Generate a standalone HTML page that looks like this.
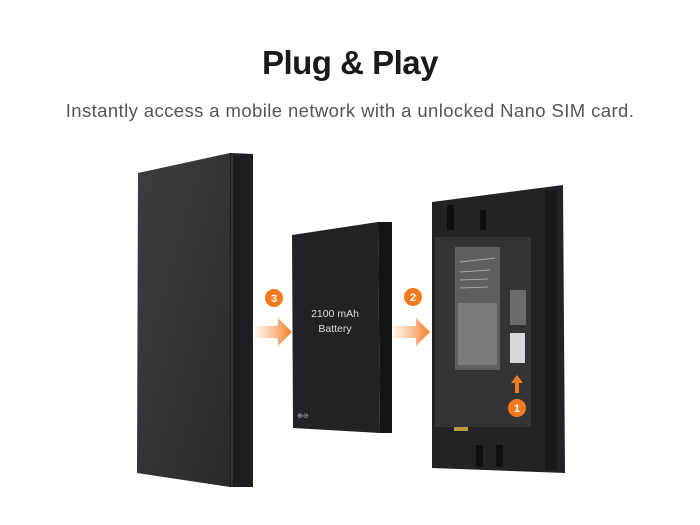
<!DOCTYPE html>
<html><head><style>
body{margin:0;background:#fff;width:700px;height:525px;overflow:hidden;font-family:"Liberation Sans",sans-serif}
h1{position:absolute;top:44px;left:0;width:700px;text-align:center;margin:0;font-size:33px;font-weight:bold;color:#1a1a1a;letter-spacing:-0.5px}
p{position:absolute;top:100px;left:0;width:700px;text-align:center;margin:0;font-size:18.5px;color:#555;letter-spacing:0.4px}
svg{position:absolute;left:0;top:0}
</style></head><body>
<h1>Plug &amp; Play</h1>
<p>Instantly access a mobile network with a unlocked Nano SIM card.</p>
<svg width="700" height="525">
<defs>
<linearGradient id="ar" x1="0" x2="1"><stop offset="0" stop-color="#f7a060" stop-opacity="0.1"/><stop offset="1" stop-color="#f47a20"/></linearGradient>
<linearGradient id="face" x1="0" y1="0" x2="1" y2="1"><stop offset="0" stop-color="#3c3c42"/><stop offset="1" stop-color="#2a2a2e"/></linearGradient>
</defs>
<polygon points="138,173 230,153 230,487 137,473" fill="url(#face)"/>
<polygon points="230,153 253,154 253,487 230,487" fill="#1e1e22"/>
<line x1="232" y1="154" x2="232" y2="487" stroke="#4a4a50" stroke-width="1"/>
<polygon points="292,235 378,222 380,433 293,428" fill="#222226"/>
<polygon points="378,222 392,222 392,433 380,433" fill="#141417"/>
<text x="335" y="317" font-size="10.5" fill="#ddd" text-anchor="middle">2100 mAh</text>
<text x="335" y="332" font-size="10.5" fill="#ddd" text-anchor="middle">Battery</text>
<text x="297" y="418" font-size="7" fill="#bbb">⊕⊖</text>
<polygon points="432,202 563,185 565,473 432,468" fill="#232327"/>
<rect x="435" y="237" width="96" height="190" fill="#333338"/>
<rect x="455" y="247" width="45" height="123" fill="#5e5e64"/>
<rect x="458" y="303" width="39" height="62" fill="#7a7a80"/>
<g stroke="#aaa" stroke-width="1"><line x1="460" y1="262" x2="495" y2="258"/><line x1="460" y1="272" x2="490" y2="270"/><line x1="460" y1="280" x2="488" y2="279"/><line x1="460" y1="288" x2="488" y2="287"/></g>
<rect x="510" y="290" width="16" height="35" fill="#6a6a70"/>
<rect x="510" y="333" width="15" height="30" fill="#d8d8da"/>
<rect x="447" y="205" width="7" height="25" fill="#0e0e10"/><rect x="480" y="210" width="6" height="20" fill="#0e0e10"/>
<rect x="476" y="445" width="7" height="22" fill="#0e0e10"/><rect x="496" y="445" width="7" height="22" fill="#0e0e10"/>
<rect x="454" y="427" width="14" height="4" fill="#b89a40"/>
<rect x="545" y="190" width="12" height="280" fill="#18181b"/>
<polygon points="511,383 517,375 523,383" fill="#f47a20"/><rect x="515" y="383" width="4" height="10" fill="#f47a20"/>
<polygon points="255,326 278,326 278,318 292,332 278,346 278,338 255,338" fill="url(#ar)"/>
<polygon points="393,326 416,326 416,318 430,332 416,346 416,338 393,338" fill="url(#ar)"/>
<circle cx="274" cy="298" r="9" fill="#f47a20"/><text x="274" y="302" font-size="11" font-weight="bold" fill="#fff" text-anchor="middle">3</text>
<circle cx="413" cy="297" r="9" fill="#f47a20"/><text x="413" y="301" font-size="11" font-weight="bold" fill="#fff" text-anchor="middle">2</text>
<circle cx="517" cy="408" r="9" fill="#f47a20"/><text x="517" y="412" font-size="11" font-weight="bold" fill="#fff" text-anchor="middle">1</text>
</svg>
</body></html>
